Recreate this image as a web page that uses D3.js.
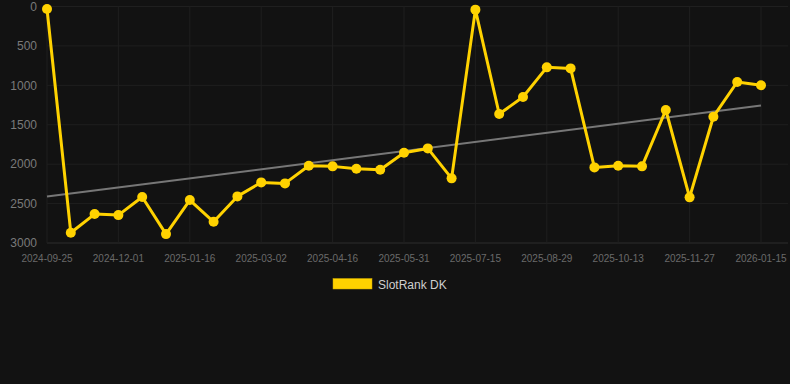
<!DOCTYPE html>
<html>
<head>
<meta charset="utf-8">
<script src="https://cdn.jsdelivr.net/npm/d3@7"></script>
<style>
  html, body { margin: 0; padding: 0; background: #121212; }
  svg { display: block; font-family: "Liberation Sans", Arial, sans-serif; }
</style>
</head>
<body>
<svg id="chart" width="790" height="384"></svg>
<script>
// dates for each point (x axis is categorical, labels every 3rd)
const dates = [
  "2024-09-25", "2024-10-17", "2024-11-08", "2024-12-01", "2024-12-16", "2024-12-31",
  "2025-01-16", "2025-01-31", "2025-02-15", "2025-03-02", "2025-03-17", "2025-04-01",
  "2025-04-16", "2025-05-01", "2025-05-16", "2025-05-31", "2025-06-15", "2025-06-30",
  "2025-07-15", "2025-07-30", "2025-08-14", "2025-08-29", "2025-09-13", "2025-09-28",
  "2025-10-13", "2025-10-28", "2025-11-12", "2025-11-27", "2025-12-13", "2025-12-29",
  "2026-01-15"
];
const rankValues = [
  32, 2870, 2633, 2646, 2417, 2887, 2455, 2731, 2409, 2231, 2244, 2020,
  2028, 2058, 2071, 1855, 1800, 2180, 40, 1364, 1148, 772, 785, 2041,
  2020, 2028, 1313, 2421, 1398, 958, 1000
];
const yTicks = [0, 500, 1000, 1500, 2000, 2500, 3000];
const seriesName = "SlotRank DK";

const svg = d3.select("#chart");
const plotLeft = 47, plotRight = 788, plotTop = 6.5, plotBottom = 243;

const x = d3.scaleLinear().domain([0, dates.length - 1]).range([plotLeft, 761]);
const y = d3.scaleLinear().domain([0, 3000]).range([plotTop, plotBottom]);

// grid
const grid = svg.append("g");
grid.selectAll("line.h")
  .data(yTicks)
  .enter()
  .append("line")
  .attr("x1", plotLeft)
  .attr("x2", plotRight)
  .attr("y1", (d) => y(d))
  .attr("y2", (d) => y(d))
  .attr("stroke", (d) => (d === 3000 ? "#2c2c2c" : "#1f1f1f"))
  .attr("stroke-width", 1);

const labelIdx = d3.range(0, dates.length, 3);
grid.selectAll("line.v")
  .data(labelIdx)
  .enter()
  .append("line")
  .attr("x1", (d) => x(d))
  .attr("x2", (d) => x(d))
  .attr("y1", plotTop)
  .attr("y2", plotBottom)
  .attr("stroke", "#1f1f1f")
  .attr("stroke-width", 1);

// y labels
svg.append("g")
  .selectAll("text")
  .data(yTicks)
  .enter()
  .append("text")
  .attr("x", 37)
  .attr("y", (d) => y(d))
  .attr("dy", "0.35em")
  .attr("text-anchor", "end")
  .attr("font-size", "12px")
  .attr("fill", "#7a7a7a")
  .text((d) => d);

// x labels
svg.append("g")
  .selectAll("text")
  .data(labelIdx)
  .enter()
  .append("text")
  .attr("x", (d) => x(d))
  .attr("y", 262)
  .attr("text-anchor", "middle")
  .attr("font-size", "10px")
  .attr("fill", "#6a6a6a")
  .text((d) => dates[d]);

// trend line (least squares)
const n = rankValues.length;
const mx = d3.mean(d3.range(n));
const my = d3.mean(rankValues);
let sxy = 0, sxx = 0;
rankValues.forEach((v, i) => {
  sxy += (i - mx) * (v - my);
  sxx += (i - mx) * (i - mx);
});
const slope = sxy / sxx;
const icpt = my - slope * mx;
svg.append("line")
  .attr("x1", x(0))
  .attr("y1", y(icpt))
  .attr("x2", x(n - 1))
  .attr("y2", y(icpt + slope * (n - 1)))
  .attr("stroke", "#777")
  .attr("stroke-width", 2);

// series
const line = d3.line()
  .x((d, i) => x(i))
  .y((d) => y(d));

svg.append("path")
  .datum(rankValues)
  .attr("d", line)
  .attr("fill", "none")
  .attr("stroke", "#ffd200")
  .attr("stroke-width", 3)
  .attr("stroke-linejoin", "round");

svg.append("g")
  .selectAll("circle")
  .data(rankValues)
  .enter()
  .append("circle")
  .attr("cx", (d, i) => x(i))
  .attr("cy", (d) => y(d))
  .attr("r", 5)
  .attr("fill", "#ffd200");

// legend
const legend = svg.append("g");
legend.append("rect")
  .attr("x", 333)
  .attr("y", 278.5)
  .attr("width", 39)
  .attr("height", 10.5)
  .attr("fill", "#ffd200")
  .attr("stroke", "#c9a600")
  .attr("stroke-width", 0.5);
legend.append("text")
  .attr("x", 378)
  .attr("y", 288.5)
  .attr("font-size", "12px")
  .attr("fill", "#cfcfcf")
  .text(seriesName);
</script>
</body>
</html>
